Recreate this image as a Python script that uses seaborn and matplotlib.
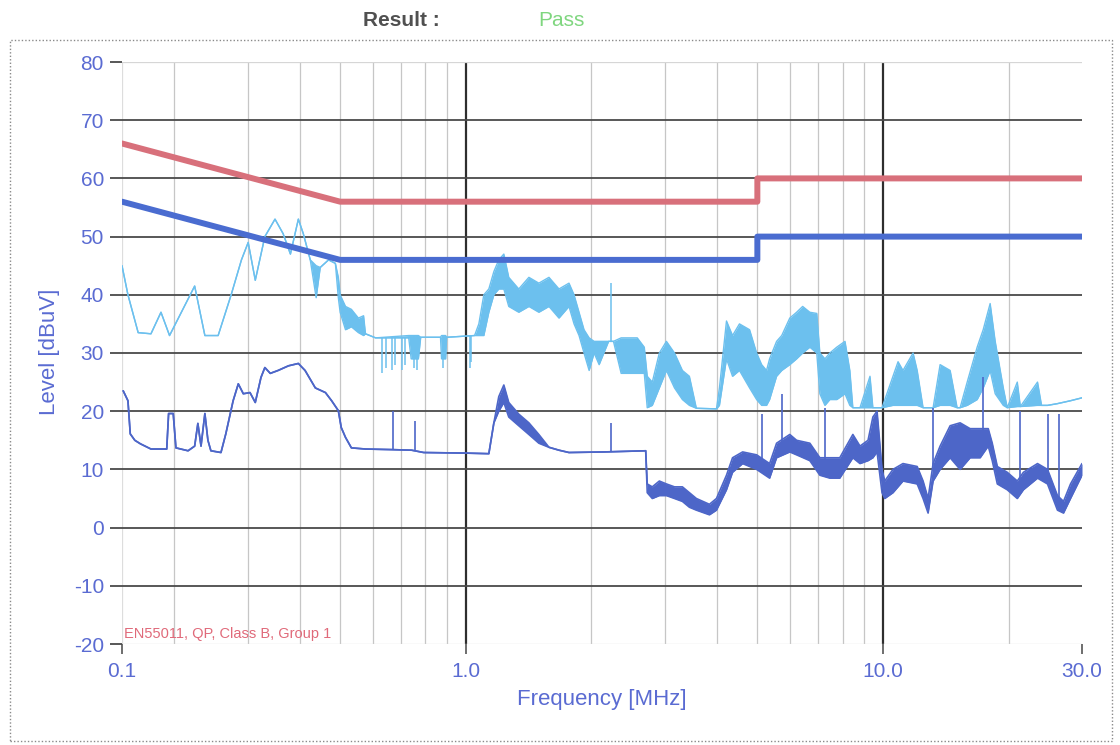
import matplotlib
matplotlib.use("Agg")
import matplotlib.pyplot as plt
from matplotlib.patches import Rectangle
from matplotlib.ticker import NullLocator
import seaborn as sns

# ---------------- data (MHz, dBuV) ----------------
qp_f = [0.15, 0.5, 5.0, 5.0, 30.0]
qp_lvl = [66, 56, 56, 60, 60]
av_lim_f = [0.15, 0.5, 5.0, 5.0, 30.0]
av_lim_lvl = [56, 46, 46, 50, 50]

pk_f = [0.15, 0.155, 0.164, 0.176, 0.186, 0.195, 0.224, 0.237, 0.255, 0.274,
        0.290, 0.301, 0.313, 0.330, 0.349, 0.365, 0.380, 0.397, 0.408, 0.424,
        0.438, 0.448, 0.469, 0.487, 0.495, 0.50, 0.515, 0.532, 0.553, 0.569,
        0.575, 0.608, 0.73, 0.74, 0.77, 0.78, 0.87, 0.875, 0.895, 0.90,
        1.05, 1.075, 1.105, 1.136, 1.168, 1.200, 1.234, 1.268, 1.34, 1.417,
        1.497, 1.583, 1.673, 1.768, 1.818, 1.869, 1.921, 1.976, 2.031, 2.088,
        2.20, 2.26, 2.358, 2.465, 2.577, 2.679, 2.723, 2.80, 2.911, 3.027,
        3.165, 3.306, 3.436, 3.571, 3.99, 4.056, 4.217, 4.36, 4.53, 4.79,
        4.98, 5.12, 5.26, 5.35, 5.56, 5.72, 5.98, 6.21, 6.42, 6.68,
        6.94, 7.06, 7.26, 7.46, 7.75, 8.11, 8.33, 8.47, 8.81, 9.31,
        9.46, 9.95, 10.57, 10.87, 11.17, 11.81, 12.08, 12.48, 13.19, 13.71,
        14.49, 15.06, 15.31, 15.92, 16.82, 17.39, 18.07, 18.58, 19.43, 19.86,
        20.99, 21.35, 23.47, 24.0, 24.80, 26.2, 28.16, 30.0]
pk_hi = [45, 40, 33.5, 33.3, 37, 33, 41.5, 33, 33, 40,
         46, 49, 42.5, 50, 53, 50.5, 47, 53, 50.5, 46,
         45, 44.7, 46, 45.4, 43, 40, 38, 37.5, 36, 36.4,
         33.3, 32.6, 33, 33, 33, 32.7, 32.7, 33, 33, 32.7,
         33, 35, 40, 41, 44, 46, 47, 43, 41, 43,
         42, 43, 41, 42, 40, 37, 34, 32.6, 32, 32,
         32, 32, 32.6, 32.6, 32.6, 31, 26, 25, 30, 32,
         30, 27, 26, 20.5, 20.4, 24, 35.5, 33, 35, 34,
         30, 28, 27, 29, 32, 33, 36, 37, 38, 37,
         36.8, 30, 29, 30, 31, 32, 27, 20.6, 20.6, 26,
         20.6, 20.6, 26, 28.5, 27, 30, 27, 20.6, 20.6, 28,
         27, 20.6, 20.6, 25, 31, 34, 38.5, 32, 24, 20.6,
         25, 20.8, 25, 21, 21, 21.3, 21.8, 22.3]
pk_lo = [45, 40, 33.5, 33.3, 37, 33, 41.5, 33, 33, 40,
         46, 49, 42.5, 50, 53, 50.5, 47, 53, 50.5, 46,
         39.5, 44.7, 46, 45.4, 39.5, 37, 34, 34.5, 33.5, 33,
         33.3, 32.6, 32.6, 29, 29, 32.7, 32.7, 29, 29, 32.7,
         33, 33, 33, 37, 40, 41, 41, 38, 37, 38,
         37, 38, 36, 38, 35, 33, 30, 27, 30, 28,
         32, 32, 26.5, 26.5, 26.5, 26.5, 20.6, 21, 24, 27,
         24, 22, 21, 20.5, 20.4, 21, 29, 26, 27, 24,
         22, 21, 21, 22, 26, 27, 28, 29, 30, 31,
         30, 23, 21, 22, 22, 23, 21, 20.6, 20.6, 20.6,
         20.6, 20.6, 21, 21, 21, 21, 21, 20.6, 20.6, 21,
         21, 20.6, 20.6, 21, 22, 24, 27, 23, 21, 20.6,
         20.8, 20.8, 21, 21, 21, 21.3, 21.8, 22.3]
pk_spike_f = [0.630, 0.645, 0.665, 0.678, 0.703, 0.715, 0.75, 0.765, 0.88, 1.022, 1.032, 2.232]
pk_spike_a = [32.7, 32.7, 32.7, 32.7, 32.7, 32.7, 33, 33, 33, 33, 33, 32]
pk_spike_b = [26.6, 27.5, 27, 28, 27, 28, 27.5, 27, 27.5, 27.5, 28.5, 42]

av_f = [0.151, 0.155, 0.157, 0.161, 0.166, 0.176, 0.192, 0.194, 0.199, 0.202,
        0.216, 0.224, 0.228, 0.232, 0.237, 0.241, 0.245, 0.259, 0.266, 0.277,
        0.285, 0.293, 0.304, 0.313, 0.323, 0.330, 0.340, 0.355, 0.376, 0.397,
        0.412, 0.436, 0.461, 0.477, 0.495, 0.503, 0.515, 0.532, 0.575, 0.664,
        0.742, 0.793, 1.00, 1.136, 1.168, 1.200, 1.234, 1.268, 1.34, 1.417,
        1.497, 1.583, 1.673, 1.768, 2.147, 2.70, 2.723, 2.80, 2.911, 3.027,
        3.165, 3.306, 3.436, 3.571, 3.838, 3.99, 4.217, 4.36, 4.61, 4.98,
        5.35, 5.56, 5.98, 6.21, 6.68, 7.06, 7.46, 7.88, 8.47, 8.81,
        9.21, 9.46, 9.68, 9.95, 10.1, 10.57, 11.17, 12.08, 12.48, 12.83,
        13.19, 13.71, 14.49, 15.31, 16.18, 17.10, 17.88, 18.28, 18.80, 19.86,
        20.99, 21.71, 23.47, 24.80, 26.20, 27.09, 28.16, 30.0]
av_hi = [23.5, 21.8, 16.1, 15, 14.4, 13.5, 13.5, 19.6, 19.6, 13.7,
         13.2, 14, 17.9, 14, 19.6, 15, 13.2, 12.9, 16.1, 21.8,
         24.7, 23, 23.2, 21.5, 25.8, 27.5, 26.5, 27, 27.8, 28.2,
         27, 24, 23.2, 21.8, 20.1, 17.2, 15.5, 13.7, 13.5, 13.4,
         13.3, 12.9, 12.8, 12.7, 18, 22.5, 24.5, 21.5, 19.5, 18,
         16, 13.8, 13.3, 12.9, 13, 13.2, 7.5, 7, 8, 7.5,
         7, 7, 6, 5, 4, 5, 9, 12, 13, 12.5,
         11, 14.5, 16, 15, 14.5, 12, 12, 12, 16, 14,
         15, 19, 20, 10, 8, 10, 11, 10.5, 8, 5,
         11, 14, 17.5, 18, 17, 17, 17, 14.5, 10.5, 9.5,
         8, 9.5, 11, 10, 5.5, 4.5, 7.5, 11]
av_lo = [23.5, 21.8, 16.1, 15, 14.4, 13.5, 13.5, 19.6, 19.6, 13.7,
         13.2, 14, 17.9, 14, 19.6, 15, 13.2, 12.9, 16.1, 21.8,
         24.7, 23, 23.2, 21.5, 25.8, 27.5, 26.5, 27, 27.8, 28.2,
         27, 24, 23.2, 21.8, 20.1, 17.2, 15.5, 13.7, 13.5, 13.4,
         13.3, 12.9, 12.8, 12.7, 18, 20, 21.5, 19, 17.5, 16,
         14.5, 13.8, 13.3, 12.9, 13, 13.2, 6, 5, 5.5, 5.5,
         5, 4.5, 3.5, 3, 2.2, 3, 6.5, 9.5, 11, 10,
         8.5, 12, 13, 12.5, 11.5, 9, 8.5, 8.5, 12, 11,
         11.5, 12, 13, 6, 5, 6, 8, 7.5, 5, 2.5,
         8, 10, 12, 10, 12, 12, 14, 11.5, 7.5, 6.5,
         5, 6.5, 8.5, 7.5, 3, 2.5, 5, 9]
av_spike_f = [0.671, 0.754, 2.232, 5.12, 5.72, 7.26, 13.19, 17.39, 21.35, 24.80, 26.36]
av_spike_a = [13.4, 13.3, 13, 11, 14, 10, 10, 15, 8, 9, 5]
av_spike_b = [20.1, 18.4, 17.9, 19.6, 23, 20.6, 20.6, 25.8, 20.1, 19.6, 19.6]

y_ticks = list(range(-20, 81, 10))
x_ticks = [0.15, 1.0, 10.0, 30.0]
x_tick_labels = ["0.1", "1.0", "10.0", "30.0"]
x_minor_grid = [0.2, 0.3, 0.4, 0.5, 0.6, 0.7, 0.8, 0.9,
                2, 3, 4, 5, 6, 7, 8, 9, 20]
x_major_grid = [1.0, 10.0]

assert len(pk_f) == len(pk_hi) == len(pk_lo)
assert len(av_f) == len(av_hi) == len(av_lo)

# ---------------- style ----------------
sns.set_theme(style="white")
plt.rcParams["font.family"] = ["Liberation Sans", "DejaVu Sans"]

W, H = 1120, 745
fig = plt.figure(figsize=(W / 100, H / 100), dpi=100)
fig.patch.set_facecolor("white")
ax = fig.add_axes([122 / W, 1 - 644 / H, 960 / W, 582 / H])
ax.set_xscale("log")

blue_txt = "#5a6bd2"
pk_col = "#6cc0ee"
avg_col = "#4d66c8"
red_lim = "#d8707b"
blue_lim = "#4a6cd0"

# grid
for v in x_minor_grid:
    ax.axvline(v, color="#c6c6c6", lw=0.9, zorder=1)
ax.axvline(0.15, color="#dddddd", lw=0.9, zorder=1)
for v in x_major_grid:
    ax.axvline(v, color="#2e2e2e", lw=1.6, zorder=1)
for y in y_ticks:
    if y in (80, -20):
        ax.axhline(y, color="#d6d6d6", lw=0.9, zorder=1)
    else:
        ax.axhline(y, color="#4a4a4a", lw=1.3, zorder=1)

# peak trace (light blue)
ax.fill_between(pk_f, pk_lo, pk_hi, color=pk_col, lw=0, zorder=2)
sns.lineplot(x=pk_f, y=pk_hi, ax=ax, color=pk_col, lw=1.0, estimator=None, sort=False, zorder=2)
sns.lineplot(x=pk_f, y=pk_lo, ax=ax, color=pk_col, lw=1.0, estimator=None, sort=False, zorder=2)
ax.vlines(pk_spike_f, pk_spike_a, pk_spike_b, color=pk_col, lw=1.1, zorder=2)

# average trace (dark blue)
ax.fill_between(av_f, av_lo, av_hi, color=avg_col, lw=0, zorder=3)
sns.lineplot(x=av_f, y=av_hi, ax=ax, color=avg_col, lw=1.2, estimator=None, sort=False, zorder=3)
sns.lineplot(x=av_f, y=av_lo, ax=ax, color=avg_col, lw=1.2, estimator=None, sort=False, zorder=3)
ax.vlines(av_spike_f, av_spike_a, av_spike_b, color=avg_col, lw=1.2, zorder=3)

# limit lines
sns.lineplot(x=qp_f, y=qp_lvl, ax=ax, color=red_lim, lw=4.3, estimator=None, sort=False, zorder=4)
sns.lineplot(x=av_lim_f, y=av_lim_lvl, ax=ax, color=blue_lim, lw=4.3, estimator=None, sort=False, zorder=4)

ax.set_xlim(0.15, 30)
ax.set_ylim(-20, 80)
for s in ax.spines.values():
    s.set_visible(False)

ax.set_yticks(y_ticks)
ax.set_yticklabels([str(v) for v in y_ticks])
ax.set_xticks(x_ticks)
ax.set_xticklabels(x_tick_labels)
ax.xaxis.set_minor_locator(NullLocator())
ax.tick_params(axis="y", left=True, direction="out", length=9, width=1.3,
               color="#4a4a4a", labelcolor=blue_txt, labelsize=15, pad=4)
ax.tick_params(axis="x", bottom=True, direction="out", length=7, width=1.2,
               color="#555555", labelcolor=blue_txt, labelsize=15, pad=6)
ax.set_xlabel("")
ax.set_ylabel("")

ax.text(0.152, -18.2, "EN55011, QP, Class B, Group 1", color="#e06a7a",
        fontsize=10.5, ha="left", va="center", zorder=5)

fig.text(50 / W, 1 - 352 / H, "Level [dBuV]", rotation=90, color=blue_txt,
         fontsize=16, ha="center", va="center")
fig.text(602 / W, 1 - 700 / H, "Frequency [MHz]", color=blue_txt,
         fontsize=16, ha="center", va="center")
fig.text(401 / W, 1 - 20 / H, "Result :", color="#505050", fontsize=15,
         fontweight="bold", ha="center", va="center")
fig.text(561 / W, 1 - 20 / H, "Pass", color="#7fd67f", fontsize=15,
         ha="center", va="center")

fig.add_artist(Rectangle((10 / W, 1 - 741 / H), 1102 / W, 701 / H,
                         transform=fig.transFigure, fill=False,
                         ls=(0, (1, 1.5)), lw=1.0, edgecolor="#8a8a8a"))

fig.savefig("out.png", dpi=100, facecolor="white")
